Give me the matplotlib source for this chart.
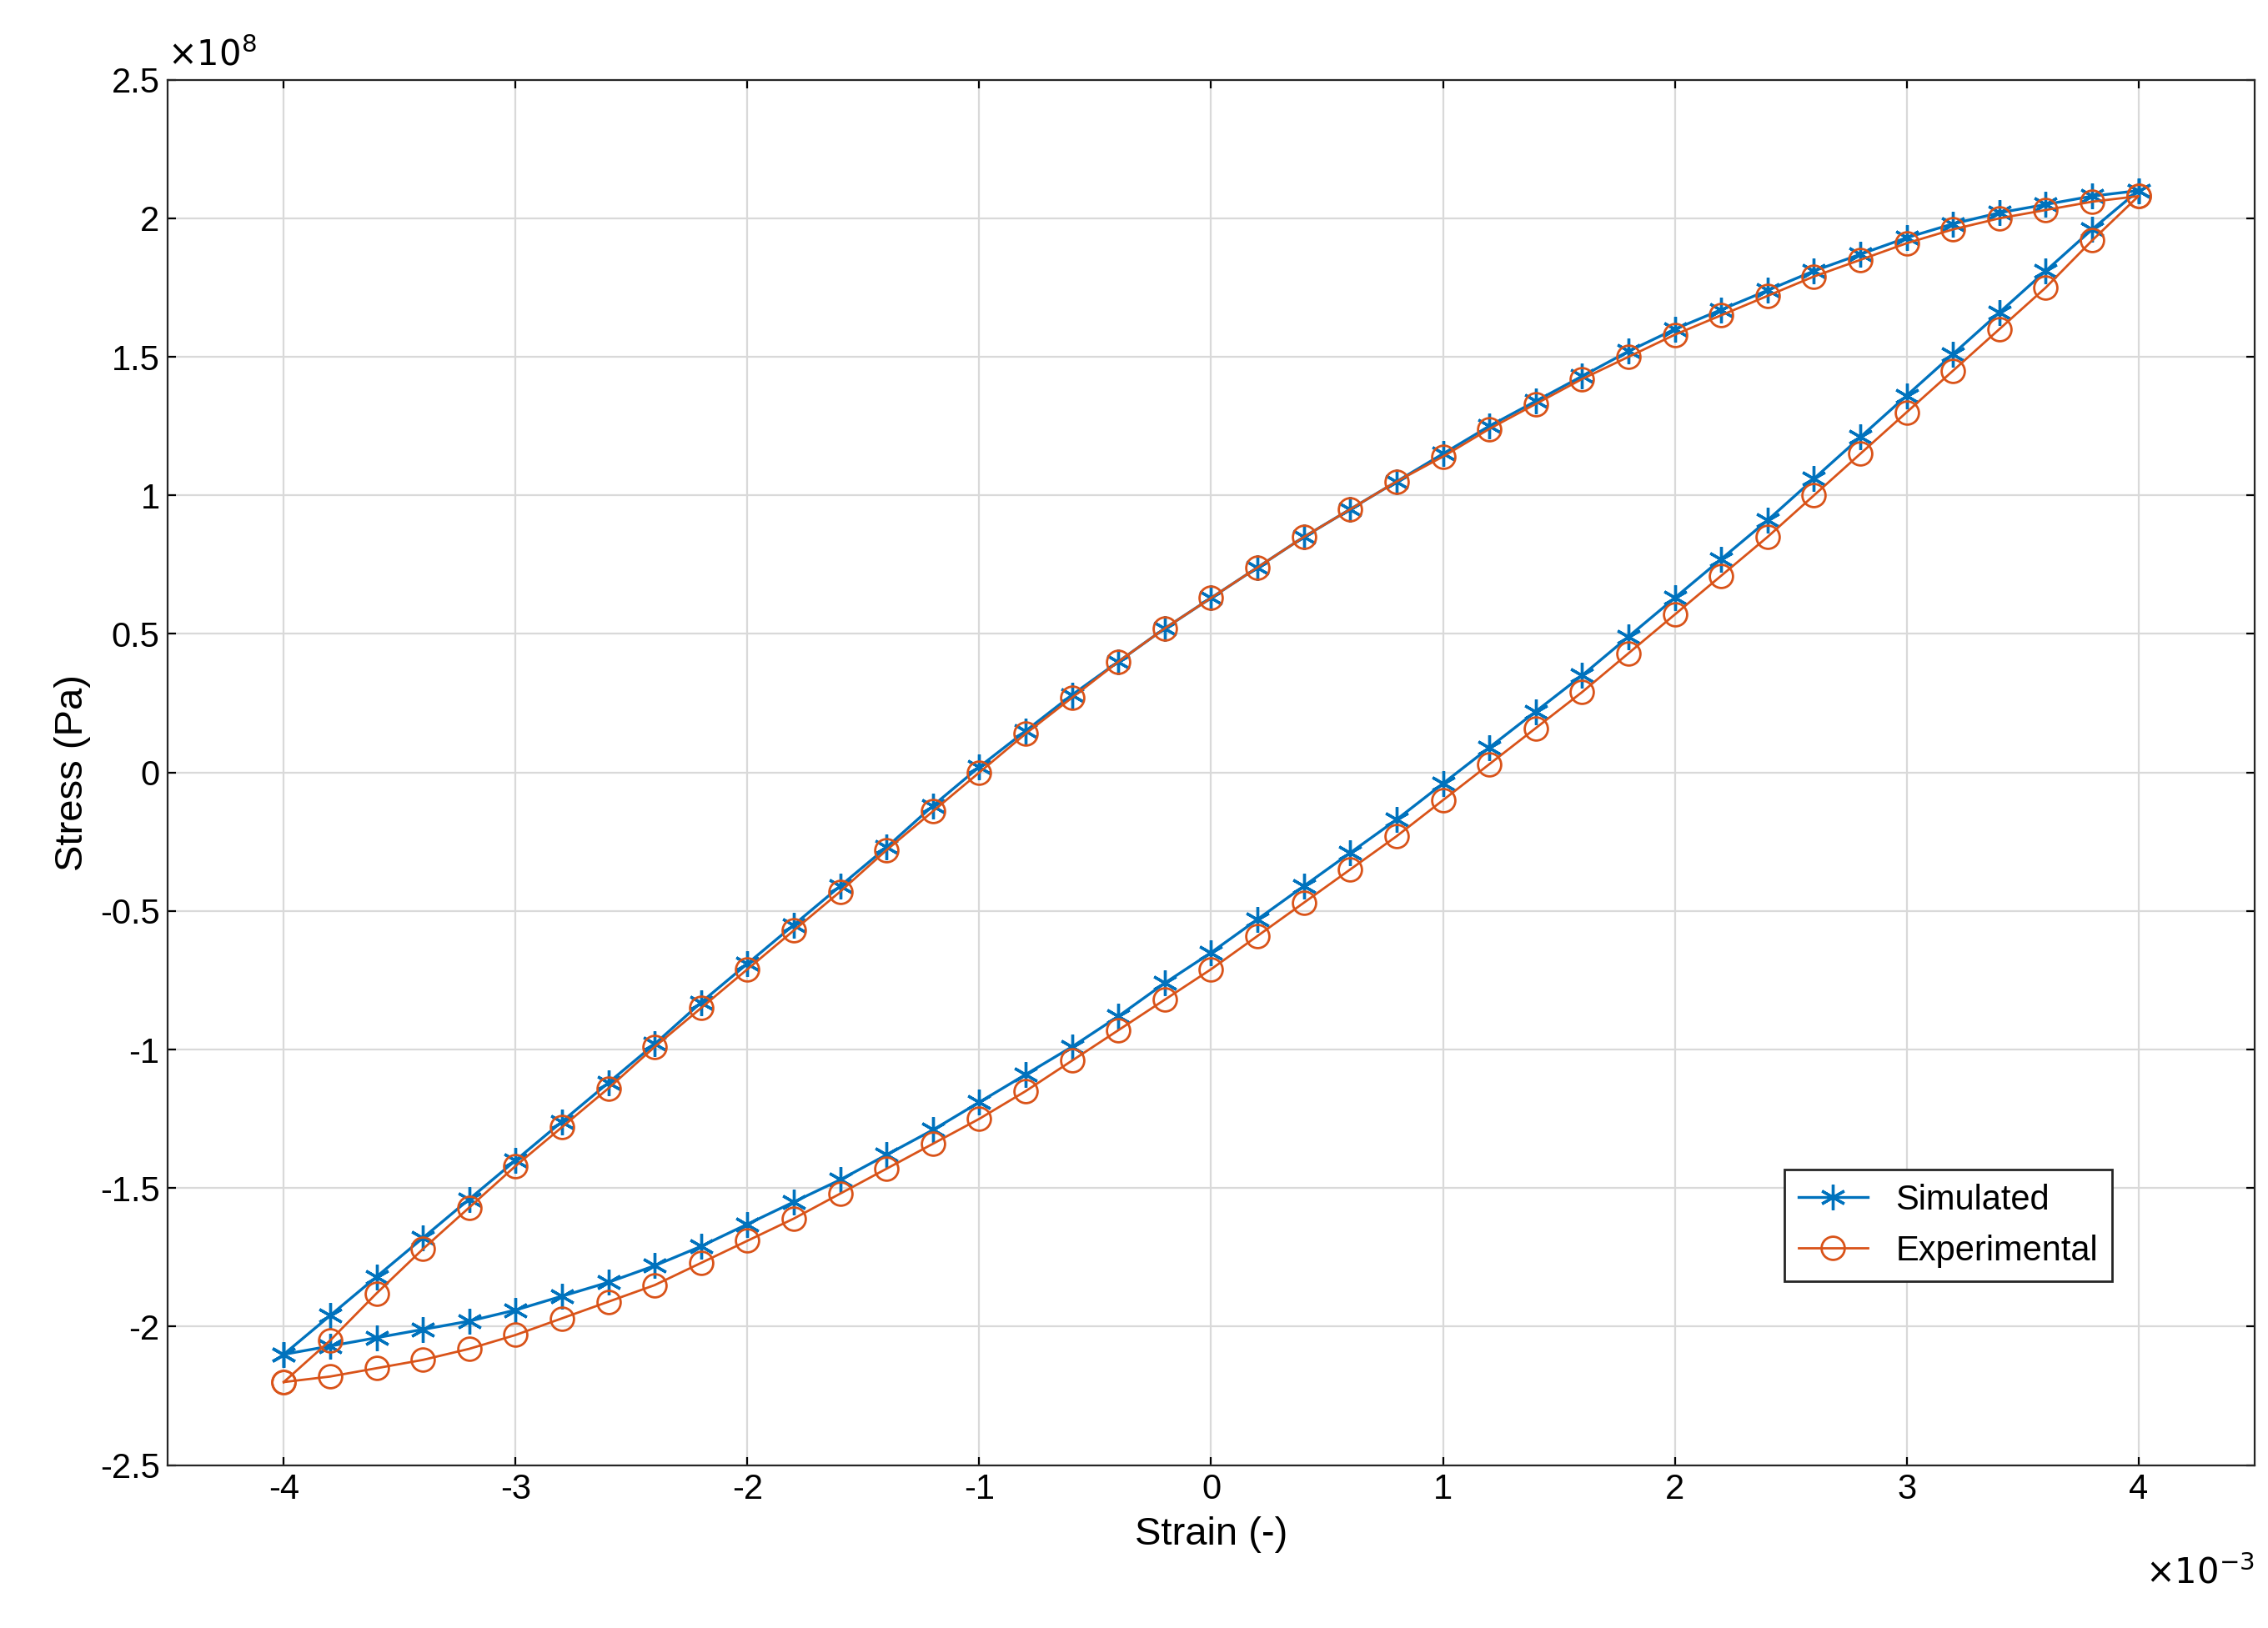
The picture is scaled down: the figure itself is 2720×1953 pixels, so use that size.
import numpy as np
import matplotlib.pyplot as plt
from matplotlib.ticker import FuncFormatter

plt.rcParams["font.family"] = ["Liberation Sans", "DejaVu Sans"]
plt.rcParams["axes.unicode_minus"] = False

# strain in 1e-3, stress in 1e8 Pa
strain = [-4.0, -3.8, -3.6, -3.4, -3.2, -3.0, -2.8, -2.6, -2.4, -2.2, -2.0,
          -1.8, -1.6, -1.4, -1.2, -1.0, -0.8, -0.6, -0.4, -0.2, 0.0,
          0.2, 0.4, 0.6, 0.8, 1.0, 1.2, 1.4, 1.6, 1.8, 2.0,
          2.2, 2.4, 2.6, 2.8, 3.0, 3.2, 3.4, 3.6, 3.8, 4.0]

sim_upper = [-2.10, -1.96, -1.82, -1.68, -1.54, -1.40, -1.26, -1.12, -0.98, -0.83, -0.69,
             -0.55, -0.41, -0.27, -0.12, 0.02, 0.15, 0.28, 0.40, 0.52, 0.63,
             0.74, 0.85, 0.95, 1.05, 1.15, 1.25, 1.34, 1.43, 1.52, 1.60,
             1.67, 1.74, 1.81, 1.87, 1.93, 1.98, 2.02, 2.05, 2.08, 2.10]
sim_lower = [-2.10, -2.07, -2.04, -2.01, -1.98, -1.94, -1.89, -1.84, -1.78, -1.71, -1.63,
             -1.55, -1.47, -1.38, -1.29, -1.19, -1.09, -0.99, -0.88, -0.76, -0.65,
             -0.53, -0.41, -0.29, -0.17, -0.04, 0.09, 0.22, 0.35, 0.49, 0.63,
             0.77, 0.91, 1.06, 1.21, 1.36, 1.51, 1.66, 1.81, 1.96, 2.10]
exp_upper = [-2.20, -2.05, -1.88, -1.72, -1.57, -1.42, -1.28, -1.14, -0.99, -0.85, -0.71,
             -0.57, -0.43, -0.28, -0.14, 0.00, 0.14, 0.27, 0.40, 0.52, 0.63,
             0.74, 0.85, 0.95, 1.05, 1.14, 1.24, 1.33, 1.42, 1.50, 1.58,
             1.65, 1.72, 1.79, 1.85, 1.91, 1.96, 2.00, 2.03, 2.06, 2.08]
exp_lower = [-2.20, -2.18, -2.15, -2.12, -2.08, -2.03, -1.97, -1.91, -1.85, -1.77, -1.69,
             -1.61, -1.52, -1.43, -1.34, -1.25, -1.15, -1.04, -0.93, -0.82, -0.71,
             -0.59, -0.47, -0.35, -0.23, -0.10, 0.03, 0.16, 0.29, 0.43, 0.57,
             0.71, 0.85, 1.00, 1.15, 1.30, 1.45, 1.60, 1.75, 1.92, 2.08]

BLUE, ORANGE = "#0072BD", "#D95319"

fig = plt.figure(figsize=(13.6, 9.765), dpi=200)
ax = fig.add_axes([0.074, 0.10, 0.92, 0.851])

x = np.array(strain)
xs = np.concatenate([x, x[::-1]])
ys_sim = np.concatenate([sim_upper, sim_lower[::-1]])
ys_exp = np.concatenate([exp_upper, exp_lower[::-1]])

asterisk = (6, 2, 0)
ax.plot(xs, ys_sim, color=BLUE, marker=asterisk, ms=11, mew=1.2, lw=1.2, label="Simulated")
ax.plot(xs, ys_exp, color=ORANGE, marker="o", ms=10, mfc="none", lw=1.0, label="Experimental")

ax.set_xlim(-4.5, 4.5)
ax.set_ylim(-2.5, 2.5)
ax.set_xticks(np.arange(-4, 5))
ax.set_yticks(np.arange(-2.5, 2.6, 0.5))
fmt = FuncFormatter(lambda v, p: f"{v:g}")
ax.xaxis.set_major_formatter(fmt)
ax.yaxis.set_major_formatter(fmt)
ax.grid(True, color="#d9d9d9", lw=0.8)
ax.tick_params(direction="in", labelsize=15, top=True, right=True)
for s in ax.spines.values():
    s.set_color("#262626")
ax.text(0.0, 1.005, r"$\times10^{8}$", transform=ax.transAxes, fontsize=15, va="bottom")
ax.text(1.0, -0.065, r"$\times10^{-3}$", transform=ax.transAxes, fontsize=15, ha="right", va="top")
ax.set_xlabel("Strain (-)", fontsize=17)
ax.set_ylabel("Stress (Pa)", fontsize=17)
ax.legend(loc="lower right", bbox_to_anchor=(0.94, 0.12), fontsize=15,
          fancybox=False, edgecolor="#262626", framealpha=1)

fig.savefig("out.png", dpi=200)
